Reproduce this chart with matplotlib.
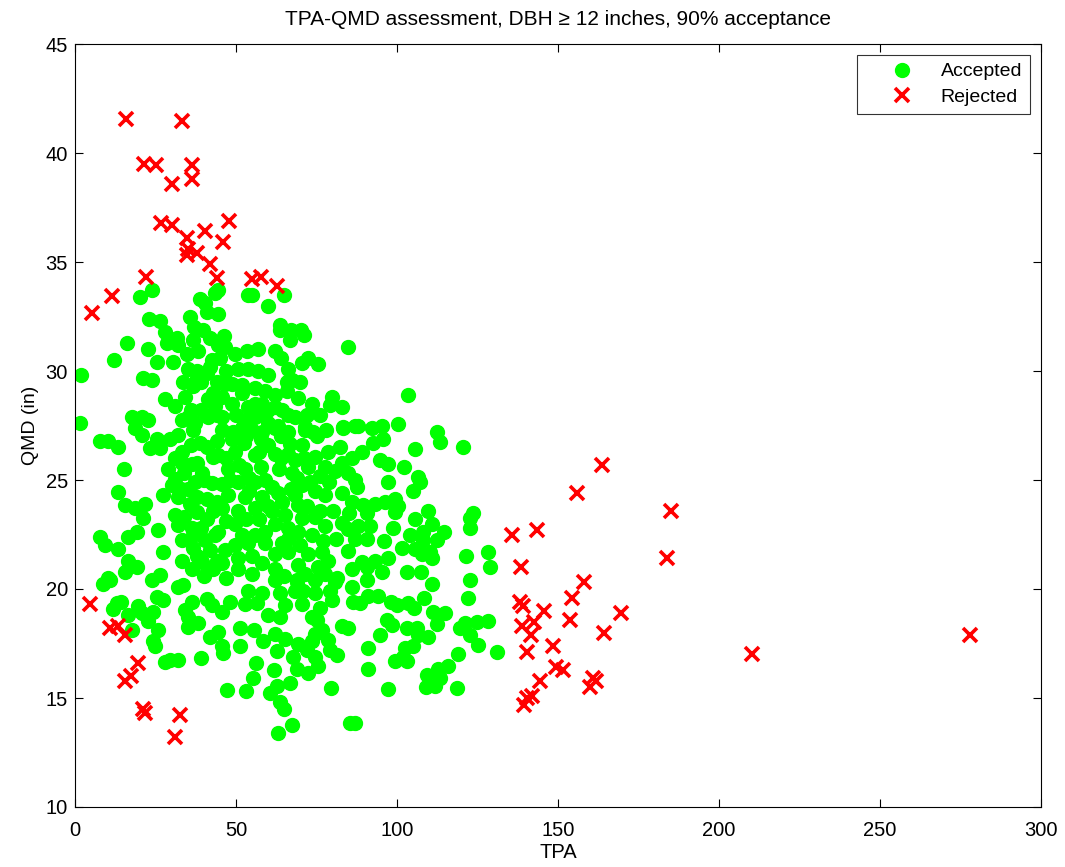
import matplotlib
matplotlib.use("Agg")
import matplotlib.pyplot as plt

# ---------------- data ----------------
# Accepted stands (green dots)
acc_tpa = [
    # upper-left cluster
    20.2, 23.8, 23.0, 26.4, 35.7, 38.8, 40.4, 43.5, 28.0, 28.5, 31.6, 32.1, 34.7, 38.3, 36.7, 39.8, 40.9,
    16.1, 22.8, 12.1, 25.4, 30.5, 42.4, 1.9, 21.2, 24.0, 33.6, 37.8, 40.9, 28.0, 31.0, 34.2, 36.7, 41.4,
    17.6, 20.7, 22.8, 18.6, 1.6, 33.1, 37.3, 41.4, 43.6,
    42.0, 44.0, 43.0, 45.0, 44.0, 39.0, 38.0, 35.0, 36.0, 39.0, 42.0, 44.5, 37.0,
    # upper-middle cluster
    44.5, 44.5, 53.8, 55.0, 59.8, 65.0, 63.7, 63.7, 67.1, 66.8, 70.2, 71.2, 84.9, 46.4, 46.6, 49.7, 53.3,
    56.9, 62.1, 64.0, 70.4, 72.5, 75.6, 66.2, 50.7, 53.8, 56.9, 65.7, 67.3, 65.7, 46.6, 48.7, 51.8, 55.9,
    59.0, 62.1, 69.3, 73.5, 79.7, 82.8, 79.2, 45.5, 48.7, 53.8, 55.9, 62.1, 64.2, 68.3, 45.5, 52.8, 55.9,
    60.0, 71.4, 83.3, 87.0,
    58.0, 60.0, 52.0, 57.0, 50.0, 47.0, 60.0, 66.0, 70.0, 72.0, 76.0, 74.0, 78.0, 66.0, 63.0, 58.0, 49.0, 53.0,
    # upper-right sparse
    103.5, 88.0, 92.1, 95.2, 100.4, 112.3,
    # right-middle
    113.4, 120.6, 105.6, 89.0, 92.6, 95.7, 94.7, 97.3, 102.3, 106.6, 107.1, 105.1, 97.3, 87.5, 89.5, 93.2,
    96.3, 99.4, 100.4, 99.4, 90.6, 91.6, 88.0, 90.6, 109.7, 105.6, 110.8, 108.2, 104.0, 98.9, 96.0, 108.2,
    112.3, 114.7, 123.7, 122.7, 122.7, 101.4, 105.6, 107.7, 110.2, 110.8, 97.3, 93.2, 89.0, 90.6, 95.2,
    103.0, 107.5, 121.4, 128.4, 128.9, 122.7, 110.8, 90.6,
    # right-lower
    91.1, 88.5, 94.2, 98.1, 99.9, 103.5, 105.4, 108.5, 121.9, 111.3, 114.9, 112.3, 96.8, 98.3, 103.0, 106.1,
    109.7, 106.6, 94.7, 105.1, 102.5, 102.0, 99.4, 103.0, 90.9, 90.9, 97.3, 87.0, 119.6, 121.1, 124.7, 128.4,
    122.7, 125.0, 131.0, 119.0, 115.9, 112.8, 113.4, 109.2, 108.9, 111.8, 118.5,
    # middle-lower
    62.1, 68.8, 74.5, 80.7, 85.9, 53.8, 58.0, 63.7, 68.3, 70.9, 74.5, 79.2, 79.7, 48.1, 45.5, 52.8, 56.4,
    65.2, 70.4, 76.1, 86.4, 60.0, 63.7, 73.5, 75.0, 76.6, 82.8, 84.9, 44.5, 51.2, 55.7, 62.1, 65.2, 58.5,
    45.5, 46.0, 51.2, 62.6, 69.3, 73.5, 74.5, 78.7, 79.2, 81.3, 72.0, 67.8, 74.5, 75.6, 68.8, 72.5, 56.1,
    61.9, 55.4, 47.1, 53.1, 60.6, 62.6, 66.8, 79.5, 63.7, 65.0, 67.3, 63.1, 85.4,
    # left-lower
    8.8, 11.0, 23.8, 32.1, 33.5, 25.4, 27.4, 12.9, 14.4, 11.9, 19.7, 16.6, 20.7, 24.3, 22.8, 17.6, 25.7,
    24.3, 24.8, 34.2, 36.2, 35.2, 35.2, 38.3, 40.9, 42.4, 41.9, 28.0, 29.5, 31.9, 39.1,
    # left-middle
    20.7, 7.8, 10.3, 13.4, 23.3, 26.4, 25.4, 29.5, 32.1, 36.7, 38.8, 33.1, 42.9, 33.1, 36.2, 15.3, 39.3,
    31.0, 30.0, 35.2, 37.3, 42.5, 13.4, 27.4, 32.1, 35.7, 40.9, 15.5, 18.6, 21.7, 31.0, 37.8, 21.2, 32.1,
    36.2, 25.9, 19.1, 16.6, 7.8, 9.3, 13.4, 33.1, 36.7, 40.4, 43.5, 27.4, 36.7, 33.1, 39.3, 16.6, 19.1,
    15.5, 36.2, 42.9, 10.3, 26.4,
    38.0, 40.0, 44.0, 41.0, 39.0, 43.0, 34.0, 38.0, 41.0, 44.0, 36.0, 34.0, 42.0, 38.0, 44.0, 40.0, 35.0,
    31.0, 29.0, 33.0,
    # dense core
    45.5, 48.7, 55.0, 62.0, 71.4, 83.3, 70.4, 82.3, 78.7, 74.5, 85.9, 52.5, 57.7, 63.9, 66.8, 44.5, 49.7,
    55.9, 60.0, 64.0, 68.3, 72.5, 77.6, 80.7, 84.9, 87.0, 47.6, 52.8, 57.9, 63.2, 67.3, 45.5, 50.7, 55.9,
    61.1, 70.4, 74.5, 77.6, 82.8, 85.9, 47.6, 52.8, 58.0, 64.2, 68.3, 69.3, 45.5, 50.7, 55.9, 61.1, 65.2,
    70.4, 74.5, 77.6, 82.8, 84.9, 49.7, 44.5, 66.2, 69.3, 73.5, 55.9, 49.7, 53.8, 58.9, 64.2, 46.6, 45.5,
    50.7, 54.9, 66.2, 72.5, 76.6, 78.7, 75.6, 77.6, 84.9, 85.9, 81.3, 69.3, 71.4, 62.1, 50.7, 68.8,
    47.0, 51.0, 54.0, 59.0, 62.0, 66.0, 69.0, 73.0, 76.0, 79.0, 57.0, 53.0, 47.0, 62.0, 67.0, 72.0, 76.0,
    80.0, 59.0, 52.0, 62.0, 58.0, 47.0, 55.0, 65.0, 77.0, 81.0, 87.0, 85.0, 83.0, 57.0, 52.0, 48.0, 63.0,
    60.0, 66.0, 70.0, 54.0, 71.0, 75.0,
]
acc_qmd = [
    # upper-left cluster
    33.4, 33.7, 32.4, 32.3, 32.5, 33.3, 33.1, 33.6, 31.8, 31.3, 31.5, 31.2, 30.8, 30.9, 31.4, 31.9, 32.7,
    31.3, 31.0, 30.5, 30.4, 30.4, 30.5, 29.8, 29.7, 29.6, 29.5, 29.7, 29.9, 28.7, 28.4, 28.8, 29.3, 28.7,
    27.9, 27.9, 27.75, 27.4, 27.6, 27.75, 27.6, 27.9, 28.4,
    30.2, 29.5, 29.0, 30.6, 28.0, 28.2, 30.0, 30.1, 28.2, 29.5, 31.5, 31.2, 32.0,
    # upper-middle cluster
    33.7, 32.6, 33.5, 33.5, 33.0, 33.5, 32.1, 31.9, 31.9, 31.4, 31.9, 31.65, 31.1, 31.6, 31.1, 30.8, 30.9,
    31.0, 30.9, 30.6, 30.35, 30.6, 30.3, 30.1, 30.1, 30.1, 30.0, 29.5, 29.6, 29.1, 29.4, 29.4, 29.35, 29.2,
    29.1, 28.9, 28.75, 28.5, 28.8, 28.35, 28.45, 28.8, 28.5, 28.35, 28.5, 28.35, 28.2, 27.9, 27.9, 27.75, 27.9,
    27.6, 27.45, 27.45, 27.5,
    28.5, 29.8, 29.0, 28.0, 28.0, 30.0, 28.2, 28.0, 29.5, 28.0, 28.0, 27.2, 27.3, 27.2, 27.5, 27.2, 27.2, 27.0,
    # upper-right sparse
    28.9, 27.5, 27.4, 27.5, 27.55, 27.2,
    # right-middle
    26.75, 26.5, 26.4, 26.3, 26.7, 26.9, 25.9, 25.75, 25.6, 25.15, 24.9, 24.5, 24.9, 24.7, 23.85, 23.9,
    24.0, 24.15, 23.8, 23.55, 23.5, 22.9, 22.9, 22.3, 23.6, 23.2, 23.0, 22.6, 22.5, 22.8, 22.2, 22.25,
    22.25, 22.6, 23.5, 23.25, 22.8, 21.9, 21.85, 21.6, 21.7, 21.4, 21.4, 21.3, 21.25, 21.0, 20.8,
    20.8, 20.8, 21.5, 21.7, 21.0, 20.4, 20.25, 20.4,
    # right-lower
    19.7, 19.35, 19.7, 19.4, 19.25, 19.35, 19.15, 19.6, 19.6, 18.95, 18.9, 18.4, 18.6, 18.35, 18.2, 18.2,
    17.8, 17.9, 17.9, 17.4, 17.3, 16.9, 16.7, 16.7, 17.3, 16.35, 15.4, 13.85, 18.2, 18.45, 18.5, 18.55,
    17.9, 17.45, 17.1, 17.0, 16.45, 16.35, 15.9, 16.05, 15.5, 15.55, 15.45,
    # middle-lower
    20.4, 20.3, 20.4, 20.3, 20.1, 19.9, 19.8, 19.8, 19.9, 19.9, 19.8, 19.9, 19.5, 19.4, 18.95, 19.3, 19.35,
    19.25, 19.3, 19.15, 19.4, 18.8, 18.7, 18.7, 18.6, 18.1, 18.3, 18.2, 18.05, 18.2, 18.1, 17.95, 17.7, 17.6,
    17.4, 17.05, 17.4, 17.15, 17.5, 17.6, 17.95, 17.65, 17.2, 16.95, 17.2, 16.9, 16.9, 16.45, 16.35, 16.15, 16.6,
    16.3, 15.9, 15.35, 15.3, 15.25, 15.55, 15.7, 15.45, 14.8, 14.5, 13.75, 13.4, 13.85,
    # left-lower
    20.25, 20.4, 20.4, 20.1, 20.2, 19.65, 19.5, 19.35, 19.4, 19.1, 19.2, 18.8, 18.9, 18.95, 18.55, 18.1, 18.1,
    17.6, 17.4, 19.05, 19.4, 18.7, 18.25, 18.45, 19.55, 19.25, 17.8, 16.65, 16.75, 16.75, 16.85,
    # left-middle
    27.05, 26.8, 26.8, 26.5, 26.45, 26.45, 26.9, 26.9, 27.05, 27.3, 26.7, 26.3, 26.05, 25.8, 25.75, 25.5, 25.3,
    25.05, 24.75, 24.6, 24.9, 24.85, 24.45, 24.3, 24.2, 23.9, 24.15, 23.85, 23.7, 23.9, 23.4, 23.55, 23.25, 22.95,
    22.8, 22.7, 22.6, 22.4, 22.4, 22.0, 21.85, 22.25, 22.5, 22.25, 22.5, 21.7, 21.9, 21.3, 21.25, 21.3, 21.0,
    20.8, 20.9, 20.9, 20.5, 20.65,
    25.8, 25.0, 24.0, 23.2, 22.8, 23.6, 25.3, 24.2, 26.5, 26.8, 26.6, 23.3, 21.8, 21.5, 21.3, 20.6, 27.9,
    26.0, 25.5, 24.6,
    # dense core
    27.3, 26.9, 27.3, 27.4, 27.3, 27.4, 26.6, 26.5, 26.3, 26.05, 26.0, 26.7, 26.9, 27.0, 26.65, 26.15, 26.3,
    26.15, 26.6, 26.0, 25.9, 25.6, 25.6, 25.4, 25.3, 25.0, 25.5, 25.5, 25.6, 25.5, 25.3, 24.8, 24.9, 24.9,
    24.7, 24.75, 24.5, 24.3, 24.4, 24.0, 24.3, 24.2, 24.2, 24.0, 24.3, 23.85, 23.7, 23.6, 23.7, 23.6, 23.4,
    23.25, 23.3, 22.9, 23.05, 22.75, 23.0, 22.6, 22.8, 22.6, 22.5, 22.5, 22.0, 22.1, 22.1, 22.1, 21.8, 21.2,
    21.4, 21.5, 21.7, 21.6, 21.7, 21.3, 21.0, 20.7, 21.75, 20.9, 20.5, 21.1, 20.7, 20.9, 20.9, 20.4,
    26.0, 25.7, 25.1, 25.0, 26.2, 26.2, 25.1, 24.9, 25.2, 24.9, 23.2, 23.2, 23.1, 23.0, 24.6, 23.8, 23.6,
    23.6, 22.6, 22.5, 21.6, 21.2, 20.5, 20.7, 20.6, 22.2, 22.3, 22.3, 23.5, 25.8, 26.3, 27.4, 25.0, 24.4,
    23.8, 22.3, 22.0, 24.5, 26.0, 27.0,
]

# Rejected stands (red crosses)
rej_tpa = [
    15.7, 33.1, 21.5, 25.1, 36.2, 36.4, 30.0, 26.7, 30.0, 47.8, 40.4, 46.1, 34.7, 35.2, 37.8, 34.7,
    41.9, 44.0, 22.0, 54.9, 57.8, 62.6, 11.6, 5.2,
    4.6, 11.0, 13.5, 15.5, 19.6, 17.5, 15.5, 21.1, 21.7, 32.6, 31.0,
    163.8, 155.8, 185.0, 135.7, 143.4, 184.0, 138.4, 158.1, 154.5, 138.3, 139.0, 145.6, 169.6, 153.7,
    138.8, 142.5, 141.5, 164.4, 148.4, 140.4, 278.0, 210.3,
    144.5, 142.0, 139.5, 140.5, 149.5, 151.5, 160.0, 161.0, 161.8,
]
rej_qmd = [
    41.55, 41.45, 39.5, 39.45, 39.45, 38.8, 38.6, 36.8, 36.7, 36.9, 36.4, 35.9, 36.1, 35.6, 35.4, 35.3,
    34.9, 34.25, 34.3, 34.2, 34.3, 33.9, 33.45, 32.65,
    19.3, 18.2, 18.3, 17.9, 16.6, 16.0, 15.8, 14.5, 14.3, 14.2, 13.2,
    25.7, 24.4, 23.6, 22.5, 22.7, 21.4, 21.0, 20.3, 19.6, 19.4, 19.2, 19.0, 18.9, 18.6,
    18.3, 18.5, 17.9, 18.0, 17.4, 17.1, 17.9, 17.0,
    15.8, 15.1, 14.7, 15.0, 16.4, 16.3, 15.5, 15.9, 15.8,
]

series_labels = ["Accepted", "Rejected"]
title_text = "TPA-QMD assessment, DBH \u2265 12 inches, 90% acceptance"
x_label = "TPA"
y_label = "QMD (in)"
x_ticks = [0, 50, 100, 150, 200, 250, 300]
y_ticks = [10, 15, 20, 25, 30, 35, 40, 45]

# ---------------- figure ----------------
plt.rcParams['font.family'] = ['Liberation Sans', 'DejaVu Sans']
fig = plt.figure(figsize=(10.65, 8.67), dpi=100)
ax = fig.add_axes([75 / 1065, 1 - 807 / 867, (1041 - 75) / 1065, (807 - 44) / 867])

ax.plot(acc_tpa, acc_qmd, linestyle='none', marker='o', markersize=10,
        color='#00ff00', markeredgecolor='#00ff00', label=series_labels[0])
ax.plot(rej_tpa, rej_qmd, linestyle='none', marker='x', markersize=10.5,
        markeredgewidth=2.6, color='#ff0000', label=series_labels[1])

ax.set_xlim(0, 300)
ax.set_ylim(10, 45)
ax.set_xticks(x_ticks)
ax.set_yticks(y_ticks)
ax.tick_params(direction='in', top=True, right=True, length=6, labelsize=14.5, width=0.8)
ax.tick_params(axis='x', pad=10)
ax.tick_params(axis='y', pad=5)
for s in ax.spines.values():
    s.set_linewidth(0.8)

ax.set_title(title_text, fontsize=15, pad=14)
ax.set_xlabel(x_label, fontsize=14.5, labelpad=2)
ax.set_ylabel(y_label, fontsize=14, labelpad=5)

leg = ax.legend(loc='upper right', bbox_to_anchor=(0.9885, 0.9855), fontsize=14,
                frameon=True, fancybox=False, edgecolor='black', borderpad=0.4,
                handletextpad=0.1, handlelength=3.8, borderaxespad=0.0, labelspacing=0.4)
leg.get_frame().set_linewidth(0.8)

fig.savefig("out.png", dpi=100)
